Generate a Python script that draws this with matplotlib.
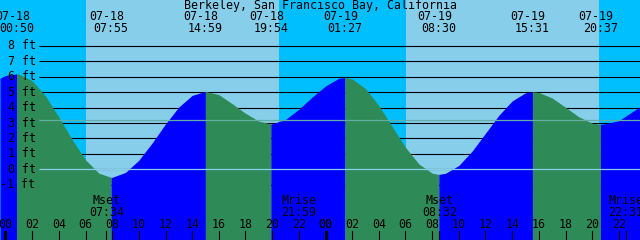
import numpy as np
import matplotlib.pyplot as plt
from matplotlib.transforms import blended_transform_factory

title = "Berkeley, San Francisco Bay, California"

# hours since 07-18 00:00 and tide height in ft
hours = [-0.41, 0, 0.83, 1, 2, 3, 4, 5, 6, 7, 7.92, 8, 9, 10, 11, 12, 13, 14,
         14.98, 15, 16, 17, 18, 19, 19.9, 20, 21, 22, 23, 24, 25, 25.45, 26,
         27, 28, 29, 30, 31, 32, 32.5, 33, 34, 35, 36, 37, 38, 39, 39.52, 40,
         41, 42, 43, 44, 44.62, 45, 46, 47, 47.59]
heights = [5.90, 6.08, 6.18, 6.17, 5.74, 4.75, 3.39, 1.92, 0.62, -0.25, -0.52,
           -0.52, -0.20, 0.59, 1.71, 2.94, 4.04, 4.79, 5.05, 5.05, 4.84, 4.25,
           3.63, 3.12, 2.95, 2.95, 3.23, 3.89, 4.68, 5.40, 5.90, 5.95, 5.86,
           5.23, 4.13, 2.77, 1.42, 0.35, -0.25, -0.33, -0.26, 0.25, 1.18, 2.34,
           3.50, 4.43, 4.96, 5.03, 4.98, 4.62, 4.02, 3.40, 2.99, 2.92, 2.95,
           3.15, 3.73, 4.05]

# high / low tides shown along the top
tide_dates = ['07-18', '07-18', '07-18', '07-18', '07-19', '07-19', '07-19', '07-19']
tide_times = ['00:50', '07:55', '14:59', '19:54', '01:27', '08:30', '15:31', '20:37']

# sun (hours since 07-18 00:00)
sunrise = [6.07, 30.07]
sunset = [20.5, 44.5]

# moon events along the bottom
moon_labels = ['Mset', 'Mrise', 'Mset', 'Mrise']
moon_dates = ['07-18', '07-18', '07-19', '07-19']
moon_times = ['07:34', '21:59', '08:32', '22:31']

ft_levels = [-1, 0, 1, 2, 3, 4, 5, 6, 7, 8]
msl = 3.2
hour_ticks = list(range(0, 48, 2))

day_sky = '#87CEEB'
night_sky = '#00BFFF'
flood = '#0000FF'
ebb = '#2E8B57'
msl_color = '#64ADA5'
datum_color = '#87CEEB'


def to_hours(date, hm):
    day = int(date[-2:]) - 18
    hh, mm = hm.split(':')
    return day * 24 + int(hh) + int(mm) / 60


W, H = 640, 240
px_per_hour = 40 / 3
x0_px = 5.5
y0_px, px_per_ft = 169.3, 15.43

fig = plt.figure(figsize=(6.4, 2.4), dpi=100)
ax = fig.add_axes([0, 0, 1, 1])
xlo, xhi = -x0_px / px_per_hour, (W - x0_px) / px_per_hour
ylo, yhi = (y0_px - H) / px_per_ft, y0_px / px_per_ft
ax.set_xlim(xlo, xhi)
ax.set_ylim(ylo, yhi)
ax.axis('off')

def fy(py):
    # pixel row -> axes fraction
    return 1 - py / H

bt = blended_transform_factory(ax.transData, ax.transAxes)
font = dict(family='DejaVu Sans Mono', fontsize=8.4, color='black')

# sky: night then day spans
ax.axvspan(xlo, xhi, color=night_sky, lw=0, zorder=0)
for a, b in zip(sunrise, sunset):
    ax.axvspan(a, b, color=day_sky, lw=0, zorder=0)

# feet grid (behind water)
grid_x0 = (39 - x0_px) / px_per_hour
ax.hlines(ft_levels, grid_x0, xhi, color='black', lw=0.8, zorder=1)

# water, blue while rising, green while falling
t = np.array(hours)
h = np.array(heights)
ev = [to_hours(d, s) for d, s in zip(tide_dates, tide_times)]
bounds = [t[0]] + ev + [t[-1]]
for a, b in zip(bounds[:-1], bounds[1:]):
    m = (t >= a - 0.02) & (t <= b + 0.02)
    rising = h[m][-1] > h[m][0]
    ax.fill_between(t[m], h[m], ylo, color=flood if rising else ebb,
                    lw=0, zorder=2)

# datum and mean sea level lines on top of water
ax.hlines([0], grid_x0, xhi, color=datum_color, lw=0.9, zorder=3)
ax.hlines([msl], grid_x0, xhi, color=msl_color, lw=0.9, zorder=3)

# left labels
for v in ft_levels:
    ax.text(35.5 / W, v, f"{v} ft", ha='right', va='center',
            transform=blended_transform_factory(ax.transAxes, ax.transData),
            zorder=5, **font)

# title and tide event labels
ax.text(0.5, fy(6), title, ha='center', va='center', transform=ax.transAxes,
        zorder=5, **font)
for d, s, x in zip(tide_dates, tide_times, ev):
    ax.annotate(d, (x, fy(17)), xycoords=bt, xytext=(-3, 0),
                textcoords='offset points', ha='center', va='center',
                zorder=5, **font)
    ax.text(x, fy(29), s, ha='center', va='center', transform=bt, zorder=5,
            **font)

# moon events
for lab, d, s in zip(moon_labels, moon_dates, moon_times):
    x = to_hours(d, s)
    ax.text(x, fy(201), lab, ha='center', va='center', transform=bt,
            zorder=5, **font)
    ax.text(x, fy(213), s, ha='center', va='center', transform=bt,
            zorder=5, **font)
    ax.axvline(x, ymin=0, ymax=9 / H, color='black', lw=0.8, zorder=4)

# hour ticks along the bottom
for hr in hour_ticks + [24]:
    ax.text(hr, fy(225), f"{hr % 24:02d}", ha='center', va='center',
            transform=bt, zorder=5, **font)
    if hr % 24 == 0:
        ax.axvline(hr, ymin=0, ymax=8 / H, color='black', lw=2.2, zorder=4)
    else:
        ax.axvline(hr, ymin=0, ymax=9 / H, color='black', lw=0.8, zorder=4)

fig.savefig('out.png', dpi=100)
